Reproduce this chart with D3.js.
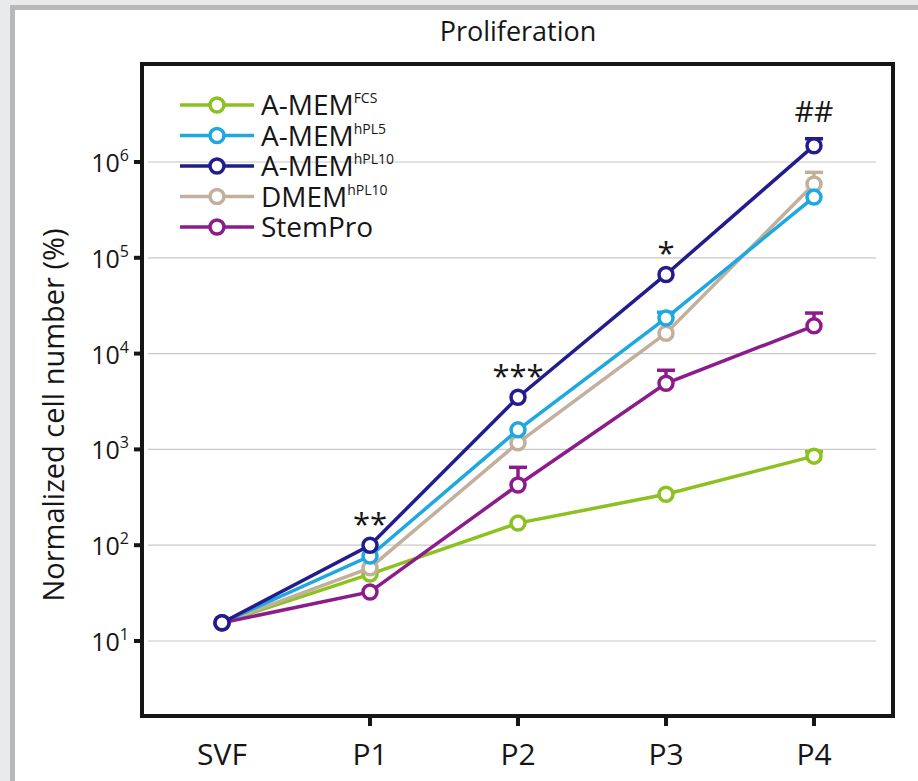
<!DOCTYPE html>
<html lang="en">
<head>
<meta charset="UTF-8">
<title>Proliferation</title>
<script src="https://d3js.org/d3.v7.min.js"></script>
<style>
  body { margin: 0; background: #e9eaec; }
  svg { display: block; font-family: "Open Sans", "Noto Sans", sans-serif; }
</style>
</head>
<body>
<script>
    // passages on the x axis
    var categories = ["SVF", "P1", "P2", "P3", "P4"];
    var yTicks = [10, 100, 1000, 10000, 100000, 1000000];

    var seriesNames = ["A-MEM", "A-MEM", "A-MEM", "DMEM", "StemPro"];
    var seriesSup = ["FCS", "hPL5", "hPL10", "hPL10", ""];
    var seriesColors = ["#8cc220", "#1ea8e0", "#231c8c", "#c2b09c", "#8c1c8c"];

    // means (normalized cell number, %)
    var fcsValues    = [15.5, 50, 170, 340, 850];
    var hpl5Values   = [15.5, 77, 1600, 23500, 430000];
    var hpl10Values  = [15.5, 100, 3500, 67000, 1480000];
    var dmemValues   = [15.5, 58, 1170, 16300, 590000];
    var stemValues   = [15.5, 32.5, 425, 4900, 19500];

    // upper error bar ends (null = no visible bar)
    var fcsErr   = [null, null, null, null, 950];
    var hpl5Err  = [null, null, null, 27000, null];
    var hpl10Err = [null, null, null, null, 1750000];
    var dmemErr  = [null, null, null, null, 780000];
    var stemErr  = [null, null, 650, 6700, 26500];

    var annotations = [
        {cat: "P1", value: 100, text: "**"},
        {cat: "P2", value: 3500, text: "***"},
        {cat: "P3", value: 67000, text: "*"},
        {cat: "P4", value: 1480000, text: "##"}
    ];

    var series = [
        {values: fcsValues, err: fcsErr},
        {values: hpl5Values, err: hpl5Err},
        {values: hpl10Values, err: hpl10Err},
        {values: dmemValues, err: dmemErr},
        {values: stemValues, err: stemErr}
    ];
    series.forEach(function (s, i) {
        s.name = seriesNames[i];
        s.sup = seriesSup[i];
        s.color = seriesColors[i];
    });
    // draw order: green, tan, light blue, purple, navy on top
    var drawOrder = [0, 3, 1, 4, 2];

    var width = 918, height = 781;
    var box = {left: 142, right: 893, top: 64, bottom: 716};
    var ink = "#161616";

    var svg = d3.select("body").append("svg")
        .attr("width", width)
        .attr("height", height);

    // page frame
    svg.append("rect")
        .attr("x", 0).attr("y", 0).attr("width", width).attr("height", height)
        .attr("fill", "#e9eaec");
    svg.append("rect")
        .attr("x", 10).attr("y", 5).attr("width", width).attr("height", height)
        .attr("fill", "#b8b8b8");
    svg.append("rect")
        .attr("x", 15).attr("y", 10).attr("width", width).attr("height", height)
        .attr("fill", "#ffffff");

    var xScale = d3.scalePoint()
        .domain(categories)
        .range([222, 814]);

    var yScale = d3.scaleLog()
        .domain([10, 1000000])
        .range([641, 162]);

    // grid lines
    svg.append("g")
        .selectAll("line")
        .data(yTicks)
        .join("line")
        .attr("x1", box.left + 6)
        .attr("x2", 876)
        .attr("y1", function (d) { return yScale(d); })
        .attr("y2", function (d) { return yScale(d); })
        .attr("stroke", "#c8c8c8")
        .attr("stroke-width", 1.2);

    // y axis ticks + labels
    var yAxis = svg.append("g");
    yAxis.selectAll("line")
        .data(yTicks)
        .join("line")
        .attr("x1", box.left - 8)
        .attr("x2", box.left)
        .attr("y1", function (d) { return yScale(d); })
        .attr("y2", function (d) { return yScale(d); })
        .attr("stroke", ink)
        .attr("stroke-width", 4);
    var yLab = yAxis.selectAll("text")
        .data(yTicks)
        .join("text")
        .attr("x", box.left - 13)
        .attr("y", function (d) { return yScale(d) + 10; })
        .attr("text-anchor", "end")
        .attr("font-size", "25px")
        .attr("fill", ink);
    yLab.append("tspan").text("10");
    yLab.append("tspan")
        .attr("dy", "-11")
        .attr("font-size", "16px")
        .text(function (d) { return Math.round(Math.log10(d)); });

    // x axis ticks + labels
    var xAxis = svg.append("g");
    xAxis.selectAll("line")
        .data(categories.slice(1))
        .join("line")
        .attr("x1", function (d) { return xScale(d); })
        .attr("x2", function (d) { return xScale(d); })
        .attr("y1", box.bottom)
        .attr("y2", box.bottom + 10)
        .attr("stroke", ink)
        .attr("stroke-width", 4);
    xAxis.selectAll("text")
        .data(categories)
        .join("text")
        .attr("x", function (d) { return xScale(d); })
        .attr("y", 765)
        .attr("text-anchor", "middle")
        .attr("font-size", "30px")
        .attr("fill", ink)
        .text(function (d) { return d; });

    // title and axis label
    svg.append("text")
        .attr("x", 518).attr("y", 41)
        .attr("text-anchor", "middle")
        .attr("font-size", "27px")
        .attr("fill", ink)
        .text("Proliferation");

    svg.append("text")
        .attr("transform", "translate(64,415) rotate(-90)")
        .attr("text-anchor", "middle")
        .attr("font-size", "29px")
        .attr("fill", ink)
        .text("Normalized cell number (%)");

    // lines, error bars, markers
    var line = d3.line()
        .x(function (d, i) { return xScale(categories[i]); })
        .y(function (d) { return yScale(d); });

    var gData = svg.append("g");
    drawOrder.forEach(function (k) {
        var s = series[k];
        var g = gData.append("g");
        g.append("path")
            .datum(s.values)
            .attr("fill", "none")
            .attr("stroke", s.color)
            .attr("stroke-width", 3.5)
            .attr("d", line);
        var errs = s.err.map(function (e, i) { return {e: e, v: s.values[i], c: categories[i]}; })
            .filter(function (d) { return d.e !== null; });
        g.selectAll("line.err")
            .data(errs)
            .join("line")
            .attr("class", "err")
            .attr("x1", function (d) { return xScale(d.c); })
            .attr("x2", function (d) { return xScale(d.c); })
            .attr("y1", function (d) { return yScale(d.v); })
            .attr("y2", function (d) { return yScale(d.e); })
            .attr("stroke", s.color)
            .attr("stroke-width", 3.5);
        g.selectAll("line.cap")
            .data(errs)
            .join("line")
            .attr("class", "cap")
            .attr("x1", function (d) { return xScale(d.c) - 9; })
            .attr("x2", function (d) { return xScale(d.c) + 9; })
            .attr("y1", function (d) { return yScale(d.e); })
            .attr("y2", function (d) { return yScale(d.e); })
            .attr("stroke", s.color)
            .attr("stroke-width", 3.5);
        g.selectAll("circle")
            .data(s.values)
            .join("circle")
            .attr("cx", function (d, i) { return xScale(categories[i]); })
            .attr("cy", function (d) { return yScale(d); })
            .attr("r", 7)
            .attr("fill", "#fff")
            .attr("stroke", s.color)
            .attr("stroke-width", 3.5);
    });

    // significance marks
    svg.append("g")
        .selectAll("text")
        .data(annotations)
        .join("text")
        .attr("x", function (d) { return xScale(d.cat); })
        .attr("y", function (d) { return yScale(d.value) - 18; })
        .attr("text-anchor", "middle")
        .attr("font-size", function (d) { return d.text[0] === "#" ? "30px" : "31px"; })
        .attr("dy", function (d) { return d.text[0] === "#" ? "-6" : "8"; })
        .attr("fill", ink)
        .text(function (d) { return d.text; });

    // legend
    var legend = svg.append("g");
    series.forEach(function (s, i) {
        var y = 105 + i * 30.5;
        legend.append("line")
            .attr("x1", 180).attr("x2", 254)
            .attr("y1", y).attr("y2", y)
            .attr("stroke", s.color)
            .attr("stroke-width", 3.5);
        legend.append("circle")
            .attr("cx", 217).attr("cy", y)
            .attr("r", 7)
            .attr("fill", "#fff")
            .attr("stroke", s.color)
            .attr("stroke-width", 3.5);
        var t = legend.append("text")
            .attr("x", 261).attr("y", y + 10)
            .attr("font-size", "28px")
            .attr("fill", ink);
        t.append("tspan").text(s.name);
        if (s.sup) {
            t.append("tspan")
                .attr("dy", "-12")
                .attr("font-size", "14px")
                .text(s.sup);
        }
    });

    // plot frame
    svg.append("rect")
        .attr("x", box.left).attr("y", box.top)
        .attr("width", box.right - box.left)
        .attr("height", box.bottom - box.top)
        .attr("fill", "none")
        .attr("stroke", ink)
        .attr("stroke-width", 4);
</script>
</body>
</html>
